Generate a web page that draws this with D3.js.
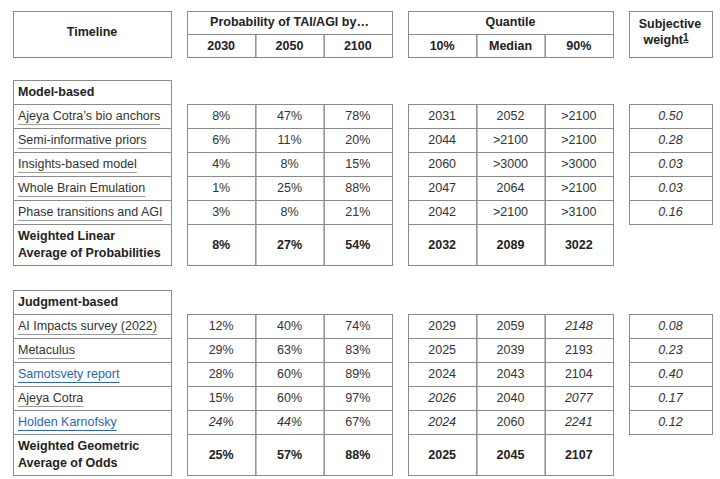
<!DOCTYPE html>
<html><head><meta charset="utf-8">
<script src="https://cdn.jsdelivr.net/npm/d3@7"></script>
<style>body{margin:0;background:#fff}text{font-family:"Liberation Sans Narrow","Arial Narrow","Liberation Sans",sans-serif}</style>
</head><body><svg width="720" height="479"></svg>
<script>
var probYears = ["2030", "2050", "2100"];
var quantLabels = ["10%", "Median", "90%"];

var modelNames = ["Ajeya Cotra’s bio anchors", "Semi-informative priors", "Insights-based model", "Whole Brain Emulation", "Phase transitions and AGI"];
var modelProb = [["8%","47%","78%"],["6%","11%","20%"],["4%","8%","15%"],["1%","25%","88%"],["3%","8%","21%"]];
var modelQuant = [["2031","2052",">2100"],["2044",">2100",">2100"],["2060",">3000",">3000"],["2047","2064",">2100"],["2042",">2100",">3100"]];
var modelWeight = ["0.50","0.28","0.03","0.03","0.16"];
var modelAvg = ["8%","27%","54%","2032","2089","3022"];

var judgNames = ["AI Impacts survey (2022)", "Metaculus", "Samotsvety report", "Ajeya Cotra", "Holden Karnofsky"];
var judgLink = [false, false, true, false, true];
var judgProb = [["12%","40%","74%"],["29%","63%","83%"],["28%","60%","89%"],["15%","60%","97%"],["24%","44%","67%"]];
var judgQuant = [["2029","2059","2148"],["2025","2039","2193"],["2024","2043","2104"],["2026","2040","2077"],["2024","2060","2241"]];
// italic flags for the 6 value cells in each row
var judgItalic = [[0,0,0,0,0,1],[0,0,0,0,0,0],[0,0,0,0,0,0],[0,0,0,1,0,1],[1,1,0,1,0,1]];
var judgWeight = ["0.08","0.23","0.40","0.17","0.12"];
var judgAvg = ["25%","57%","88%","2025","2045","2107"];

var svg = d3.select("svg");
var line = "#8a8a8a", txt = "#222";
var colX = d3.scaleLinear().domain([0, 3]).range([187, 392]);
var qX = d3.scaleLinear().domain([0, 3]).range([408, 613]);
var wX = [629, 712], lX = [13, 171];
var rowH = 24;

function box(x0, y0, x1, y1) {
  svg.append("rect").attr("x", x0 + 0.5).attr("y", y0 + 0.5)
    .attr("width", x1 - x0).attr("height", y1 - y0)
    .attr("fill", "none").attr("stroke", line).attr("stroke-width", 1);
}
function label(x, y, s, opt) {
  opt = opt || {};
  return svg.append("text").attr("x", x).attr("y", y).attr("dy", "0.35em")
    .attr("text-anchor", opt.anchor || "middle")
    .attr("font-size", opt.size || 12.5)
    .attr("font-weight", opt.bold ? "bold" : null)
    .attr("font-style", opt.italic ? "italic" : null)
    .attr("fill", opt.fill || txt).text(s);
}

// header
box(lX[0], 11, lX[1], 57);
label((lX[0] + lX[1]) / 2, 32, "Timeline", {bold: true});
box(colX(0), 11, colX(3), 34);
label((colX(0) + colX(3)) / 2, 22, "Probability of TAI/AGI by…", {bold: true});
box(qX(0), 11, qX(3), 34);
label((qX(0) + qX(3)) / 2, 22, "Quantile", {bold: true});
[[colX, probYears], [qX, quantLabels]].forEach(function(g) {
  g[1].forEach(function(s, i) {
    box(g[0](i), 34, g[0](i + 1), 57);
    label((g[0](i) + g[0](i + 1)) / 2, 46, s, {bold: true});
  });
});
box(wX[0], 11, wX[1], 57);
label(670, 24, "Subjective", {bold: true});
var wt = label(666, 40, "weight", {bold: true});
wt.append("tspan").attr("dy", "-0.35em").attr("font-size", 10).attr("text-decoration", "underline").attr("fill", txt).text("1");

function section(top, title, names, links, probs, quants, italics, weights, avg, avgLines) {
  var rowsTop = top + 24;
  var y = d3.scaleLinear().domain([0, 1]).range([rowsTop, rowsTop + rowH]);
  box(lX[0], top, lX[1], rowsTop);
  label(18, top + 12, title, {anchor: "start", bold: true});
  names.forEach(function(n, r) {
    var cy = (y(r) + y(r + 1)) / 2;
    box(lX[0], y(r), lX[1], y(r + 1));
    var link = links && links[r];
    var t = label(18, cy, n, {anchor: "start", fill: link ? "#2a64b8" : "#333"});
    var w = t.node().getComputedTextLength();
    svg.append("line").attr("x1", 18).attr("x2", 18 + w).attr("y1", cy + 8.5).attr("y2", cy + 8.5)
      .attr("stroke", link ? "#2a64b8" : "#999").attr("stroke-width", 1);
    var vals = probs[r].concat(quants[r]);
    vals.forEach(function(v, i) {
      var sc = i < 3 ? colX : qX, c = i % 3;
      box(sc(c), y(r), sc(c + 1), y(r + 1));
      label((sc(c) + sc(c + 1)) / 2, cy, v, {italic: italics && italics[r][i], fill: "#333"});
    });
    box(wX[0], y(r), wX[1], y(r + 1));
    label((wX[0] + wX[1]) / 2, cy, weights[r], {italic: true, fill: "#333"});
  });
  var a0 = y(names.length), a1 = a0 + 41, am = (a0 + a1) / 2;
  box(lX[0], a0, lX[1], a1);
  label(18, am - 8.5, avgLines[0], {anchor: "start", bold: true});
  label(18, am + 8.5, avgLines[1], {anchor: "start", bold: true});
  avg.forEach(function(v, i) {
    var sc = i < 3 ? colX : qX, c = i % 3;
    box(sc(c), a0, sc(c + 1), a1);
    label((sc(c) + sc(c + 1)) / 2, am, v, {bold: true});
  });
}

section(80, "Model-based", modelNames, null, modelProb, modelQuant, null, modelWeight, modelAvg,
  ["Weighted Linear", "Average of Probabilities"]);
section(290, "Judgment-based", judgNames, judgLink, judgProb, judgQuant, judgItalic, judgWeight, judgAvg,
  ["Weighted Geometric", "Average of Odds"]);
</script></body></html>
